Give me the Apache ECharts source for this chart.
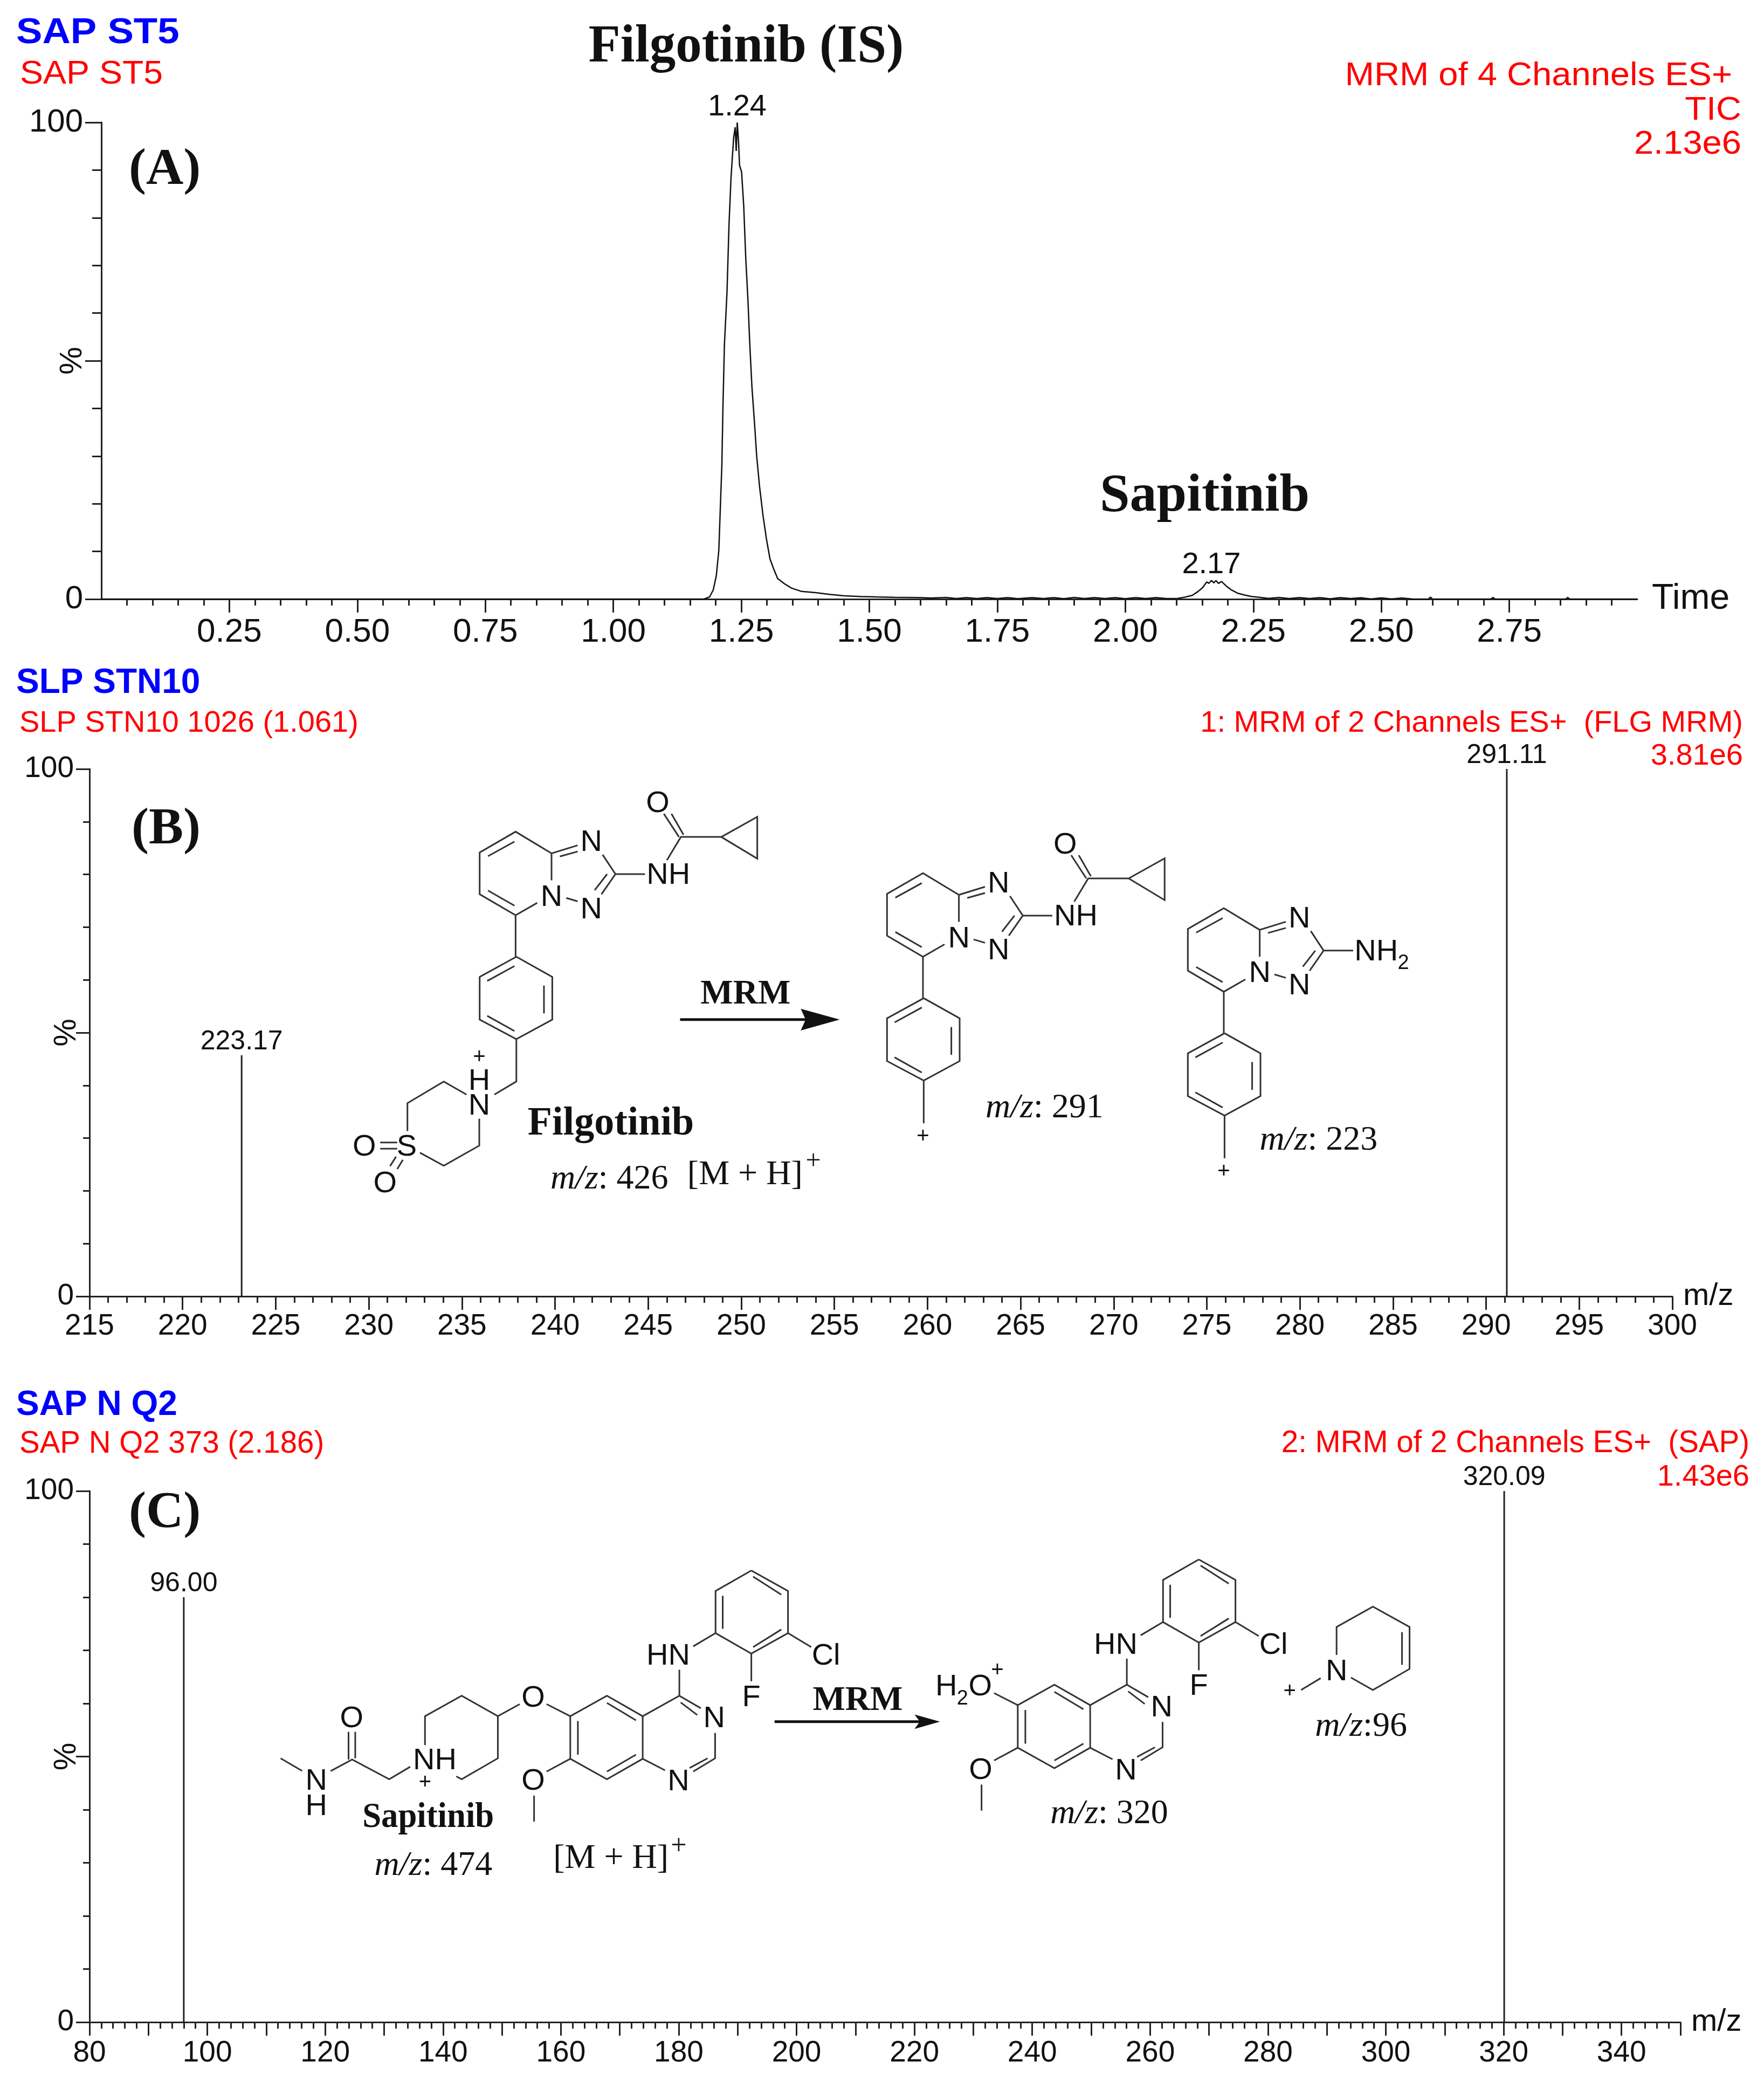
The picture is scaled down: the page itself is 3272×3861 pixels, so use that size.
<!DOCTYPE html>
<html>
<head>
<meta charset="utf-8">
<title>MRM chromatogram and spectra</title>
<script src="https://cdn.jsdelivr.net/npm/echarts@6/dist/echarts.min.js"></script>
<style>
  html, body { margin: 0; padding: 0; background: #fff; }
  #main { width: 3272px; height: 3861px; }
</style>
</head>
<body>
<div id="main"></div>
<script>
// panel A: chromatogram
var timeA = [0, 0.5, 1.0, 1.177, 1.188, 1.195, 1.201, 1.206, 1.209, 1.212, 1.214, 1.217, 1.222, 1.226, 1.23, 1.235, 1.238, 1.24, 1.242, 1.2445, 1.2465, 1.2505, 1.2547, 1.2586, 1.263, 1.2665, 1.2707, 1.2755, 1.28, 1.2855, 1.2925, 1.2992, 1.306, 1.314, 1.321, 1.3345, 1.348, 1.368, 1.395, 1.422, 1.449, 1.482, 1.515, 1.549, 1.6, 1.62, 1.65, 1.67, 1.69, 1.71, 1.73, 1.75, 1.77, 1.79, 1.818, 1.84, 1.86, 1.88, 1.9, 1.92, 1.94, 1.96, 1.98, 2.0, 2.02, 2.04, 2.06, 2.08, 2.0995, 2.116, 2.131, 2.142, 2.151, 2.159, 2.163, 2.168, 2.173, 2.177, 2.182, 2.188, 2.197, 2.206, 2.219, 2.232, 2.245, 2.26, 2.28, 2.3, 2.32, 2.34, 2.36, 2.38, 2.4, 2.42, 2.44, 2.46, 2.48, 2.5, 2.52, 2.54, 2.56, 2.592, 2.596, 2.6, 2.714, 2.718, 2.722, 2.86, 2.864, 2.868, 3.0];
var pctA = [0, 0, 0, 0, 0.45, 1.9, 4.8, 10.2, 19.2, 28.2, 40, 53.5, 64.4, 78.8, 88.7, 96.8, 99, 94, 100, 96, 91, 89.6, 82.4, 71.6, 62.5, 53.5, 44.5, 37.3, 30, 23.7, 17.4, 12.5, 8.4, 6.1, 4.3, 3.2, 2.3, 1.6, 1.35, 1.0, 0.7, 0.55, 0.45, 0.36, 0.32, 0.22, 0.34, 0.12, 0.32, 0.1, 0.3, 0.12, 0.32, 0.08, 0.3, 0.1, 0.32, 0.08, 0.34, 0.1, 0.3, 0.12, 0.32, 0.08, 0.3, 0.12, 0.32, 0.1, 0.1, 0.4, 0.8, 1.6, 2.4, 3.6, 3.3, 3.9, 3.4, 3.9, 3.3, 3.7, 2.75, 2.0, 1.25, 0.87, 0.57, 0.4, 0.14, 0.34, 0.1, 0.32, 0.12, 0.3, 0.06, 0.3, 0.1, 0.28, 0.04, 0.26, 0.04, 0.24, 0.04, 0, 0.4, 0, 0, 0.35, 0, 0, 0.35, 0, 0];
var peakTimesA = [1.242, 2.168];
var peakPctA = [100, 3.9];
var timeTicksA = [0.25, 0.5, 0.75, 1, 1.25, 1.5, 1.75, 2, 2.25, 2.5, 2.75];
var pctLabels = [0, 100];

// panel B: product ions of filgotinib
var mzB = [223.17, 291.11];
var intensityB = [45.7, 100];

// panel C: product ions of sapitinib
var mzC = [96, 320.09];
var intensityC = [80, 100];
var mzLabelsC = [80, 100, 120, 140, 160, 180, 200, 220, 240, 260, 280, 300, 320, 340];

var SANS = '"Liberation Sans", Arial, sans-serif';
var SERIF = '"Liberation Serif", "Times New Roman", serif';
var INK = '#111';
var BOND = '#333';
var MID = 0.28; // canvas middle sits this far above the baseline, in font sizes

// text placed by its baseline, reference pixels
function label(text, x, baseline, size, opts) {
  opts = opts || {};
  var family = opts.serif ? SERIF : SANS;
  return {
    type: 'text', x: x, y: baseline - size * MID, scaleX: opts.sx || 1, z: 20,
    style: {
      text: text,
      fill: opts.color || INK,
      font: (opts.bold ? 'bold ' : '') + size + 'px ' + family,
      align: opts.align || 'left',
      verticalAlign: 'middle'
    }
  };
}

// the structure coordinates were measured on zoomed crops, frame() maps them back
function frame(ox, oy, sx, sy) {
  return { x: function (v) { return ox + v / sx }, y: function (v) { return oy + v / sy } };
}
var z3 = frame(600, 1400, 1.4255, 1.742);
var z4 = frame(1600, 1400, 1.4255, 1.742);
var z5 = frame(450, 2850, 1.206, 2.24);
var z6 = frame(1650, 2850, 1.4255, 2.613);

function bonds(f, list, dx, dy) {
  return list.map(function (p) {
    var pts = [];
    for (var i = 0; i < p.length; i += 2) pts.push([f.x(p[i]) + (dx || 0), f.y(p[i + 1]) + (dy || 0)]);
    return { type: 'polyline', z: 15, shape: { points: pts }, style: { stroke: BOND, lineWidth: 3, fill: null } };
  });
}
function atoms(f, list, dx, dy, size) {
  return list.map(function (a) {
    return {
      type: 'text', z: 20, x: f.x(a[1]) + (dx || 0), y: f.y(a[2]) + (dy || 0) + 3,
      style: { text: a[0], fill: INK, font: (a[3] || size || 56) + 'px ' + SANS, align: 'center', verticalAlign: 'middle' }
    };
  });
}
function mzText(f, value, x, baseline) {
  var size = 64;
  return {
    type: 'text', z: 20, x: f.x(x), y: f.y(baseline) - size * 0.26,
    style: {
      text: '{i|m/z}{n|' + value + '}', verticalAlign: 'middle', align: 'left',
      rich: {
        i: { font: 'italic ' + size + 'px ' + SERIF, fill: INK },
        n: { font: size + 'px ' + SERIF, fill: INK }
      }
    }
  };
}
function arrow(f, x1, x2, y, tip, backTop, notch, backBottom) {
  return bonds(f, [[x1, y, notch, y]]).map(function (b) { b.style.lineWidth = 5; b.style.stroke = INK; return b }).concat([{
    type: 'polygon', z: 16,
    shape: { points: [[f.x(x2), f.y(y)], [f.x(tip), f.y(backTop)], [f.x(notch), f.y(y)], [f.x(tip), f.y(backBottom)]] },
    style: { fill: INK }
  }]);
}

// triazolopyridine plus phenyl, in crop 3 coordinates
function triazoloPhenyl(dx, dy) {
  return bonds(z3, [
    [603, 318, 508, 248, 413, 315, 413, 450, 508, 518, 565, 478],
    [435, 327, 505, 280], [435, 438, 505, 487],
    [603, 405, 603, 318, 672, 292], [625, 328, 672, 312],
    [738, 322, 772, 385, 735, 450], [750, 385, 717, 437], [642, 462, 672, 473],
    [508, 518, 508, 652],
    [510, 652, 413, 717, 413, 855, 510, 918, 605, 855, 605, 717, 510, 652],
    [433, 730, 505, 682], [583, 745, 583, 835], [433, 843, 505, 892]
  ], dx, dy).concat(atoms(z3, [['N', 708, 278], ['N', 603, 455], ['N', 708, 495]], dx, dy));
}
function amide(dx, dy) {
  return bonds(z3, [
    [772, 385, 850, 385], [908, 340, 945, 265, 1052, 265],
    [900, 190, 940, 265], [920, 190, 952, 258],
    [1052, 265, 1147, 200, 1147, 335, 1052, 265]
  ], dx, dy).concat(atoms(z3, [['NH', 912, 385], ['O', 884, 153]], dx, dy));
}

var filgotinib = [].concat(
  triazoloPhenyl(0, 0), amide(0, 0),
  bonds(z3, [
    [510, 918, 510, 1055, 452, 1097],
    [378, 1097, 318, 1055, 222, 1125, 222, 1215],
    [255, 1285, 318, 1327, 412, 1262, 412, 1175],
    [150, 1252, 195, 1252], [150, 1272, 195, 1272],
    [176, 1328, 192, 1298], [195, 1338, 210, 1308]
  ]),
  atoms(z3, [['N', 412, 1130], ['H', 412, 1050], ['S', 220, 1262], ['O', 108, 1262], ['O', 163, 1380], ['+', 412, 972, 40]]),
  label('Filgotinib', z3.x(540), z3.y(1230), 74, { serif: true, bold: true }),
  mzText(z3, ': 426', 600, 1400),
  label('[M + H]', z3.x(962), z3.y(1388), 64, { serif: true }),
  label('+', z3.x(1275), z3.y(1340), 50, { serif: true }),
  label('MRM', z3.x(1116), z3.y(805), 64, { serif: true, bold: true, align: 'center' }),
  arrow(z3, 943, 1365, 855, 1262, 820, 1275, 890)
);

var fragB1 = { dx: 755.6, dy: 76.9 };
var fragB2 = { dx: 1313.6, dy: 141.8 };
var fragmentsB = [].concat(
  triazoloPhenyl(fragB1.dx, fragB1.dy), amide(fragB1.dx, fragB1.dy),
  bonds(z3, [[510, 918, 510, 1056]], fragB1.dx, fragB1.dy),
  atoms(z3, [['+', 508, 1094, 40]], fragB1.dx, fragB1.dy),
  mzText(z4, ': 291', 325, 1170),
  triazoloPhenyl(fragB2.dx, fragB2.dy),
  bonds(z3, [[510, 918, 510, 1056], [772, 385, 850, 385]], fragB2.dx, fragB2.dy),
  atoms(z3, [['+', 508, 1094, 40]], fragB2.dx, fragB2.dy),
  atoms(z4, [['NH', 1358, 632], ['2', 1430, 668, 38]]),
  mzText(z4, ': 223', 1050, 1275)
);

// anilinoquinazoline, in crop 5 coordinates
function quinazoline(dx, dy) {
  return bonds(z5, [
    [1138, 140, 1058, 225, 1058, 400, 1138, 485, 1220, 400, 1220, 225, 1138, 140],
    [1142, 165, 1205, 240], [1074, 245, 1074, 382], [1142, 458, 1205, 385],
    [1220, 400, 1272, 458], [1138, 485, 1138, 600], [1058, 400, 1008, 455],
    [977, 552, 977, 660],
    [1025, 712, 977, 660, 895, 745], [980, 688, 1017, 740],
    [1057, 815, 1057, 920, 1008, 975], [1040, 920, 1000, 960],
    [945, 970, 895, 922],
    [895, 745, 895, 922], [895, 745, 815, 660, 733, 745, 733, 922, 815, 1007, 895, 922],
    [815, 690, 880, 762], [750, 765, 750, 905], [815, 975, 880, 905],
    [733, 745, 680, 695], [733, 922, 680, 975], [652, 1075, 652, 1183]
  ], dx, dy).concat(atoms(z5, [
    ['Cl', 1305, 490], ['F', 1138, 662], ['HN', 952, 490], ['N', 1055, 750], ['N', 975, 1012], ['O', 650, 1010]
  ], dx, dy));
}

var sapitinib = [].concat(
  quinazoline(0, 0),
  bonds(z5, [
    [620, 695, 571, 745, 490, 660, 408, 745, 408, 865],
    [571, 745, 571, 920, 490, 1007, 478, 995],
    [375, 955, 328, 1007, 245, 925, 197, 973],
    [237, 810, 237, 925], [252, 810, 252, 920],
    [133, 972, 85, 920]
  ]),
  atoms(z5, [['O', 650, 665], ['NH', 430, 925], ['+', 408, 1015, 40], ['O', 244, 750], ['N', 165, 1010], ['H', 165, 1115]]),
  label('Sapitinib', z5.x(268), z5.y(1208), 66, { serif: true, bold: true, sx: 0.95 }),
  mzText(z5, ': 474', 295, 1405),
  label('[M + H]', z5.x(695), z5.y(1378), 64, { serif: true }),
  label('+', z5.x(958), z5.y(1320), 52, { serif: true }),
  label('MRM', z5.x(1376), z5.y(722), 64, { serif: true, bold: true, align: 'center' }),
  arrow(z5, 1190, 1560, 768, 1503, 738, 1515, 798)
);

var fragC = { dx: 830, dy: -20.5 };
var fragmentsC = [].concat(
  quinazoline(fragC.dx, fragC.dy),
  atoms(z6, [['H', 150, 720], ['2', 193, 778, 38], ['O', 240, 720], ['+', 285, 640, 40]]),
  mzText(z6, ': 320', 425, 1388),
  bonds(z6, [
    [1182, 572, 1182, 437, 1278, 338, 1375, 437, 1375, 640, 1278, 742, 1220, 682],
    [1355, 462, 1355, 620], [1140, 685, 1088, 742]
  ]),
  atoms(z6, [['N', 1182, 648], ['+', 1058, 742, 40]]),
  mzText(z6, ':96', 1125, 965)
);

var headers = [
  label('SAP ST5', 30, 80, 66, { bold: true, color: '#0000ff', sx: 1.1 }),
  label('SAP ST5', 37, 155, 62, { color: '#ff0000', sx: 1.04 }),
  label('MRM of 4 Channels ES+', 3213, 158, 62, { color: '#ff0000', align: 'right', sx: 1.05 }),
  label('TIC', 3230, 222, 62, { color: '#ff0000', align: 'right', sx: 1.05 }),
  label('2.13e6', 3230, 285, 62, { color: '#ff0000', align: 'right', sx: 1.05 }),
  label('Filgotinib (IS)', 1384, 116, 100, { serif: true, bold: true, align: 'center', sx: 0.97 }),
  label('(A)', 239, 343, 96, { serif: true, bold: true }),
  label('Sapitinib', 2040, 949, 100, { serif: true, bold: true }),

  label('SLP STN10', 30, 1285, 64, { bold: true, color: '#0000ff' }),
  label('SLP STN10 1026 (1.061)', 36, 1357, 56, { color: '#ff0000' }),
  label('1: MRM of 2 Channels ES+  (FLG MRM)', 3233, 1357, 56, { color: '#ff0000', align: 'right' }),
  label('3.81e6', 3233, 1418, 56, { color: '#ff0000', align: 'right' }),
  label('(B)', 244, 1566, 96, { serif: true, bold: true }),

  label('SAP N Q2', 30, 2624, 64, { bold: true, color: '#0000ff' }),
  label('SAP N Q2 373 (2.186)', 36, 2694, 56.5, { color: '#ff0000' }),
  label('2: MRM of 2 Channels ES+  (SAP)', 3245, 2693, 56.5, { color: '#ff0000', align: 'right' }),
  label('1.43e6', 3245, 2755, 56, { color: '#ff0000', align: 'right' }),
  label('(C)', 239, 2834, 96, { serif: true, bold: true })
];

function xAxis(index, min, max, interval, opt) {
  return {
    type: 'value', gridIndex: index, min: min, max: max, interval: interval,
    position: 'bottom', splitLine: { show: false },
    name: opt.name, nameLocation: 'end', nameGap: opt.nameGap, nameMoveOverlap: false,
    nameTextStyle: { color: INK, fontFamily: SANS, fontSize: opt.nameSize },
    axisLine: { onZero: false, lineStyle: { color: '#222', width: 3 } },
    axisTick: { show: true, inside: false, length: 25, customValues: opt.ticks, lineStyle: { color: '#222', width: 3 } },
    minorTick: { show: true, splitNumber: opt.minor, length: 12, lineStyle: { color: '#222', width: 3 } },
    axisLabel: {
      color: INK, fontFamily: SANS, fontSize: opt.fontSize, margin: opt.margin, hideOverlap: false,
      customValues: opt.labels, formatter: opt.format
    }
  };
}
function yAxis(index, opt) {
  return {
    type: 'value', gridIndex: index, min: 0, max: 100, interval: 50, splitLine: { show: false },
    name: '%', nameLocation: 'middle', nameRotate: 90, nameGap: opt.nameGap, nameMoveOverlap: false,
    nameTextStyle: { color: INK, fontFamily: SANS, fontSize: 58 },
    axisLine: { onZero: false, lineStyle: { color: '#222', width: 3 } },
    axisTick: { show: true, length: opt.major, lineStyle: { color: '#222', width: 3 } },
    minorTick: { show: true, splitNumber: 5, length: opt.minor, lineStyle: { color: '#222', width: 3 } },
    axisLabel: { color: INK, fontFamily: SANS, fontSize: opt.fontSize, margin: opt.margin, customValues: pctLabels }
  };
}
function sticks(index, mz, intensity) {
  return {
    type: 'bar', xAxisIndex: index, yAxisIndex: index, barWidth: 3, silent: true,
    itemStyle: { color: '#222' },
    label: {
      show: true, position: 'top', distance: 0, color: INK, fontFamily: SANS, fontSize: 50,
      formatter: function (p) { return p.value[0].toFixed(2) }
    },
    data: mz.map(function (m, i) { return [m, intensity[i]] })
  };
}

var chart = echarts.init(document.getElementById('main'));
chart.setOption({
  animation: false,
  backgroundColor: '#fff',
  grid: [
    { left: 188, top: 227, width: 2849, height: 884, outerBoundsMode: 'none' },
    { left: 166, top: 1426, width: 2936, height: 978, outerBoundsMode: 'none' },
    { left: 166, top: 2765, width: 2951, height: 985, outerBoundsMode: 'none' }
  ],
  xAxis: [
    xAxis(0, 0, 3, 0.25, {
      name: 'Time', nameGap: 27, nameSize: 66, minor: 5, ticks: timeTicksA, labels: timeTicksA,
      fontSize: 62, margin: 31, format: function (v) { return v.toFixed(2) }
    }),
    xAxis(1, 215, 300, 5, { name: 'm/z', nameGap: 20, nameSize: 58, minor: 5, fontSize: 55, margin: 28 }),
    xAxis(2, 80, 350, 10, { name: 'm/z', nameGap: 20, nameSize: 58, minor: 5, labels: mzLabelsC, fontSize: 55, margin: 30 })
  ],
  yAxis: [
    yAxis(0, { nameGap: 24, major: 30, minor: 17, fontSize: 60, margin: 34 }),
    yAxis(1, { nameGap: 13, major: 25, minor: 12, fontSize: 55, margin: 29 }),
    yAxis(2, { nameGap: 13, major: 25, minor: 12, fontSize: 55, margin: 29 })
  ],
  series: [
    {
      type: 'line', xAxisIndex: 0, yAxisIndex: 0, symbol: 'none', silent: true,
      lineStyle: { color: '#111', width: 2.5 },
      data: timeA.map(function (t, i) { return [t, pctA[i]] })
    },
    {
      type: 'scatter', xAxisIndex: 0, yAxisIndex: 0, symbolSize: 1, silent: true,
      itemStyle: { color: 'transparent', opacity: 1 },
      label: {
        show: true, position: 'top', distance: 0, color: INK, fontFamily: SANS, fontSize: 56,
        formatter: function (p) { return p.value[0].toFixed(2) }
      },
      data: peakTimesA.map(function (t, i) { return [t, peakPctA[i]] })
    },
    sticks(1, mzB, intensityB),
    sticks(2, mzC, intensityC)
  ],
  graphic: { elements: [].concat(headers, filgotinib, fragmentsB, sapitinib, fragmentsC) }
});
window.addEventListener('resize', function () { chart.resize() });
</script>
</body>
</html>
